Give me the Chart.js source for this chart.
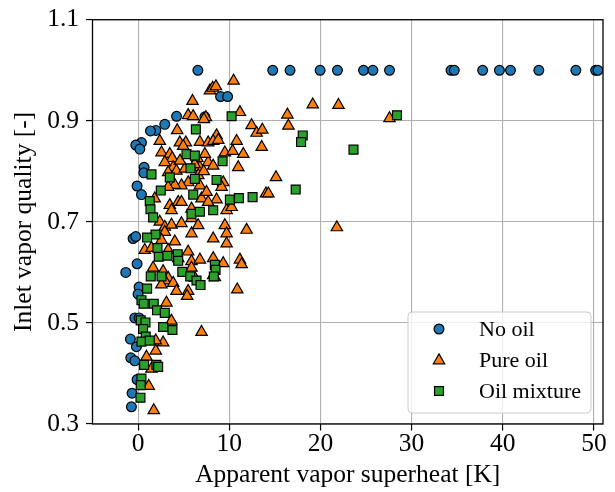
<!DOCTYPE html>
<html>
<head>
<meta charset="utf-8">
<script src="https://cdn.jsdelivr.net/npm/chart.js@4.4.1/dist/chart.umd.min.js"></script>
<style>
  html, body { margin: 0; padding: 0; background: #fff; }
</style>
</head>
<body>
<canvas id="grafico" width="615" height="492"></canvas>
<script>
const xTicks = [0, 10, 20, 30, 40, 50];
const yTicks = [0.3, 0.5, 0.7, 0.9, 1.1];
const seriesNames = ["No oil", "Pure oil", "Oil mixture"];

// [superheat K, inlet quality]
const noOil = [
  [6.56, 1.0], [14.77, 1.0], [16.67, 1.0], [19.97, 1.0], [21.87, 1.0], [24.73, 1.0],
  [25.76, 1.0], [27.58, 1.0], [34.33, 1.0], [34.69, 1.0], [37.8, 1.0], [39.64, 1.0],
  [40.85, 1.0], [43.96, 1.0], [48.02, 1.0], [50.19, 1.0], [50.44, 1.0],
  [9.05, 0.948], [9.82, 0.948], [7.33, 0.908], [4.22, 0.909], [2.93, 0.893], [1.95, 0.881],
  [1.36, 0.88], [0.37, 0.857], [-0.25, 0.852], [0.19, 0.844], [0.66, 0.808], [0.63, 0.797],
  [-0.11, 0.771], [0.37, 0.754], [-0.55, 0.667], [-0.25, 0.671], [-0.11, 0.617], [-1.35, 0.6],
  [0.11, 0.571], [0.0, 0.557], [-0.36, 0.51], [0.11, 0.51], [-0.84, 0.468], [-0.18, 0.453],
  [-0.8, 0.431], [-0.36, 0.425], [-0.11, 0.388], [-0.66, 0.361], [-0.73, 0.334]
];

const pureOil = [
  [10.48, 0.979], [7.88, 0.96], [8.18, 0.965], [8.54, 0.968], [5.97, 0.939], [5.49, 0.911],
  [6.04, 0.909], [7.44, 0.907], [7.22, 0.903], [11.17, 0.917], [4.29, 0.881], [12.45, 0.891],
  [13.0, 0.876], [8.61, 0.871], [2.38, 0.86], [4.58, 0.857], [5.24, 0.857], [6.78, 0.858],
  [7.69, 0.857], [8.24, 0.86], [8.79, 0.862], [10.81, 0.86], [4.95, 0.85], [9.52, 0.837],
  [10.37, 0.84], [11.54, 0.834], [10.99, 0.808], [9.34, 0.778], [9.16, 0.769], [8.61, 0.744],
  [9.71, 0.723], [10.26, 0.729], [9.52, 0.693], [11.9, 0.684], [9.71, 0.677], [9.71, 0.657],
  [11.17, 0.625],
  [19.16, 0.932], [21.98, 0.931], [16.38, 0.912], [16.49, 0.89], [27.58, 0.905], [13.63, 0.882],
  [13.56, 0.848], [15.13, 0.788], [14.03, 0.756], [14.29, 0.756], [21.8, 0.689],
  [2.57, 0.837], [3.48, 0.834], [3.74, 0.826], [2.93, 0.818], [3.85, 0.808], [3.3, 0.798],
  [4.21, 0.801], [5.13, 0.805], [6.78, 0.808], [7.69, 0.818], [6.6, 0.792], [5.5, 0.778],
  [4.76, 0.772], [4.03, 0.773], [3.3, 0.769], [6.78, 0.772], [4.4, 0.739], [3.48, 0.733],
  [3.67, 0.723], [4.76, 0.739], [6.96, 0.746], [5.86, 0.726], [7.69, 0.739], [2.38, 0.7],
  [2.93, 0.69], [3.67, 0.694], [4.76, 0.697], [5.86, 0.707], [5.86, 0.677], [2.93, 0.68],
  [2.57, 0.664], [0.73, 0.644], [1.47, 0.648], [4.03, 0.661], [3.3, 0.644], [5.49, 0.641],
  [4.4, 0.628], [5.86, 0.622], [6.78, 0.625], [1.65, 0.609], [2.75, 0.602], [3.3, 0.589],
  [5.86, 0.609], [6.23, 0.589],
  [1.83, 0.746], [7.33, 0.834], [8.24, 0.811], [7.51, 0.759], [8.24, 0.667], [8.24, 0.628],
  [6.59, 0.693], [4.6, 0.821], [6.5, 0.826], [6.2, 0.814], [7.2, 0.8],
  [9.34, 0.618], [11.36, 0.616], [8.24, 0.594], [8.42, 0.59], [2.93, 0.584], [2.56, 0.576],
  [3.85, 0.579], [5.49, 0.563], [5.38, 0.553], [4.21, 0.563], [10.88, 0.566], [3.11, 0.54],
  [3.66, 0.504], [6.96, 0.482], [2.75, 0.461], [1.94, 0.465], [1.94, 0.445], [0.92, 0.433],
  [1.47, 0.409], [1.17, 0.375], [1.72, 0.327]
];

const oilMixture = [
  [10.26, 0.909], [28.4, 0.911], [6.34, 0.883], [18.06, 0.871], [17.88, 0.858], [23.63, 0.843],
  [9.27, 0.82], [8.61, 0.783], [10.07, 0.744], [11.06, 0.747], [12.56, 0.749], [17.29, 0.764],
  [5.31, 0.834], [6.23, 0.831], [1.47, 0.794], [3.48, 0.788], [5.75, 0.806], [6.23, 0.785],
  [2.49, 0.762], [1.28, 0.741], [1.36, 0.725], [1.65, 0.709], [6.05, 0.754], [5.86, 0.716],
  [6.78, 0.72], [8.24, 0.723], [1.91, 0.675], [0.99, 0.669], [2.13, 0.648], [2.27, 0.631],
  [3.22, 0.633], [4.35, 0.636], [4.4, 0.623], [4.85, 0.601], [5.72, 0.592], [6.41, 0.584],
  [6.85, 0.575], [8.42, 0.615], [8.5, 0.605], [8.31, 0.592], [1.39, 0.592], [2.57, 0.592],
  [0.99, 0.568], [0.37, 0.545], [0.62, 0.538], [1.72, 0.538], [2.08, 0.525], [2.93, 0.52],
  [0.29, 0.505], [0.81, 0.501], [0.55, 0.488], [2.75, 0.492], [3.77, 0.486], [0.84, 0.473],
  [0.37, 0.463], [1.28, 0.465], [0.66, 0.417], [2.01, 0.417], [2.2, 0.413], [0.37, 0.39],
  [0.29, 0.377], [0.26, 0.352]
];

const fonte = "'Liberation Serif', 'Times New Roman', serif";
const toPoints = (pairs) => pairs.map(([x, y]) => ({ x, y }));

const estilos = [
  { pointStyle: "circle", radius: 4.9, color: "#1f77b4" },
  { pointStyle: "triangle", radius: 6.6, color: "#ff7f0e" },
  { pointStyle: "rect", radius: 6.3, color: "#2ca02c" }
];

// box around the axes + legend in the lower right corner
const molduraELegenda = {
  id: "molduraELegenda",
  afterDraw(chart) {
    const { ctx, chartArea: ca } = chart;
    ctx.save();
    ctx.strokeStyle = "#000";
    ctx.lineWidth = 1.3;
    ctx.strokeRect(ca.left, ca.top, ca.right - ca.left, ca.bottom - ca.top);

    const w = 183, h = 101;
    const bx = ca.right - 12 - w;
    const by = ca.bottom - 11 - h;
    ctx.beginPath();
    ctx.roundRect(bx, by, w, h, 4);
    ctx.fillStyle = "rgba(255,255,255,0.8)";
    ctx.fill();
    ctx.strokeStyle = "#cccccc";
    ctx.lineWidth = 1;
    ctx.stroke();

    const linhas = [17, 48.5, 79];
    ctx.font = "22px " + fonte;
    ctx.textBaseline = "middle";
    ctx.textAlign = "left";
    seriesNames.forEach((nome, i) => {
      const e = estilos[i];
      ctx.fillStyle = e.color;
      ctx.strokeStyle = "#000";
      ctx.lineWidth = 1.2;
      Chart.helpers.drawPoint(ctx, { pointStyle: e.pointStyle, radius: e.radius, borderWidth: 1.2, rotation: 0 }, bx + 31, by + linhas[i]);
      ctx.fillStyle = "#000";
      ctx.fillText(nome, bx + 71, by + linhas[i] + 1);
    });
    ctx.restore();
  }
};

const series = [noOil, pureOil, oilMixture];

new Chart(document.getElementById("grafico"), {
  type: "scatter",
  data: {
    datasets: series.map((s, i) => ({
      label: seriesNames[i],
      data: toPoints(s),
      pointStyle: estilos[i].pointStyle,
      pointRadius: estilos[i].radius,
      backgroundColor: estilos[i].color,
      borderColor: "#000",
      borderWidth: 1.2,
      order: 3 - i
    }))
  },
  options: {
    responsive: false,
    animation: false,
    events: [],
    layout: { padding: { top: 16, right: 12, left: 0, bottom: 0 } },
    plugins: { legend: { display: false }, tooltip: { enabled: false } },
    scales: {
      x: {
        type: "linear",
        min: -5,
        max: 51,
        afterBuildTicks: (s) => { s.ticks = xTicks.map((v) => ({ value: v })); },
        afterFit: (s) => { s.height = 68; },
        border: { display: false },
        grid: { color: "#b0b0b0", lineWidth: 1.1, tickColor: "#000", tickLength: 6.5, tickWidth: 1.2 },
        ticks: { color: "#000", padding: 1, maxRotation: 0, font: { family: fonte, size: 25.5, lineHeight: 1 } },
        title: {
          display: true,
          text: "Apparent vapor superheat [K]",
          color: "#000",
          font: { family: fonte, size: 25.5, lineHeight: 1 },
          padding: { top: 0, bottom: 4 }
        }
      },
      y: {
        type: "linear",
        min: 0.3,
        max: 1.1,
        afterBuildTicks: (s) => { s.ticks = yTicks.map((v) => ({ value: v })); },
        afterFit: (s) => { s.width = 92.5; },
        border: { display: false },
        grid: { color: "#b0b0b0", lineWidth: 1.1, tickColor: "#000", tickLength: 6.5, tickWidth: 1.2 },
        ticks: { color: "#000", padding: 7, font: { family: fonte, size: 25.5, lineHeight: 1 }, callback: (v) => v.toFixed(1) },
        title: {
          display: true,
          text: "Inlet vapor quality [-]",
          color: "#000",
          font: { family: fonte, size: 25.5, lineHeight: 1 },
          padding: { top: 12, bottom: 0 }
        }
      }
    }
  },
  plugins: [molduraELegenda]
});
</script>
</body>
</html>
